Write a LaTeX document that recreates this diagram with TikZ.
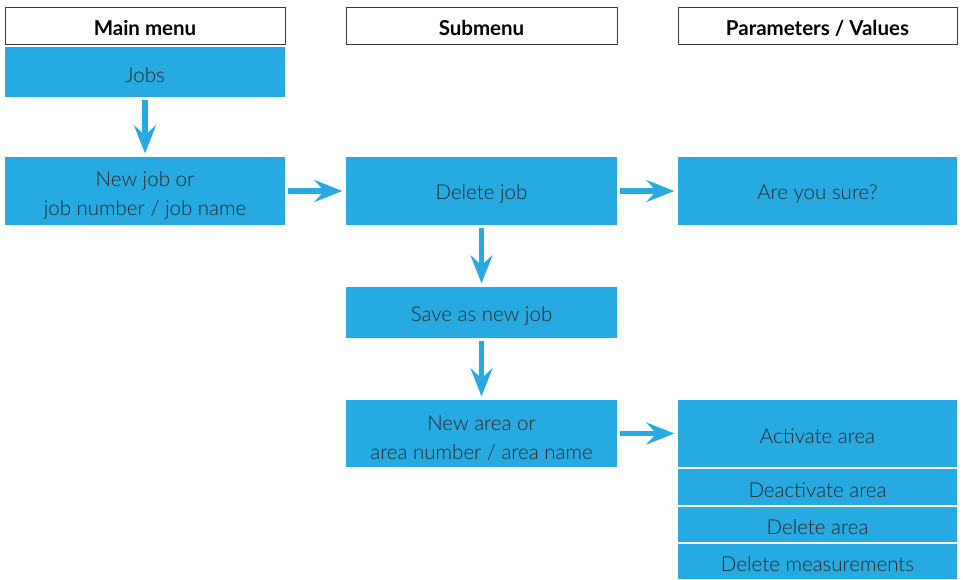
\documentclass[tikz,border=0pt]{standalone}
\usepackage{fontspec}
\setmainfont{Lato}[UprightFont=* Light, BoldFont=* Bold]
\usetikzlibrary{arrows.meta}
\definecolor{menublue}{HTML}{27A9E1}
\definecolor{menutext}{HTML}{262626}
\definecolor{headline}{HTML}{3A3A3A}
% invisible struts that lower the text a little inside its box
\newcommand{\lowerstrut}{\rule{0pt}{21pt}}
\newcommand{\lowerstrutii}{\rule{0pt}{23pt}}
\tikzset{
  x=1pt, y=-1pt,
  item/.style={fill=menublue, draw=none, inner sep=0pt, align=center,
    text=menutext, font=\fontsize{20.5}{29}\selectfont,
    execute at begin node=\lowerstrut},
  head/.style={fill=white, draw=headline, line width=1pt, inner sep=0pt,
    text=black, font=\fontsize{20.5}{23}\selectfont\bfseries,
    execute at begin node=\lowerstrut},
  flow/.style={draw=menublue, line width=5.5pt,
    -{Stealth[length=28pt, width=22pt, inset=10pt]},
    shorten <=3pt, shorten >=3.5pt},
}
\begin{document}
\begin{tikzpicture}
\useasboundingbox (0,0) rectangle (963,579);
% column headings
\node[head, minimum width=280pt, minimum height=37pt] (hmain) at (145,25.5) {Main menu};
\node[head, minimum width=271pt, minimum height=37pt] (hsub) at (481.5,25.5) {Submenu};
\node[head, minimum width=279pt, minimum height=37pt] (hpar) at (817.5,25.5) {Parameters / Values};
% main menu
\node[item, minimum width=280pt, minimum height=50pt] (jobs) at (145,72) {Jobs};
\node[item, minimum width=280pt, minimum height=68pt] (newjob) at (145,191) {\lowerstrutii New job or\\job number / job name};
% submenu
\node[item, minimum width=271pt, minimum height=68pt] (deljob) at (481.5,191) {Delete job};
\node[item, minimum width=271pt, minimum height=51pt] (saveas) at (481.5,312.5) {Save as new job};
\node[item, minimum width=271pt, minimum height=67pt] (newarea) at (481.5,433.5) {\lowerstrutii New area or\\area number / area name};
% parameters / values
\node[item, minimum width=279pt, minimum height=68pt] (sure) at (817.5,191) {Are you sure?};
\node[item, minimum width=279pt, minimum height=67pt] (activate) at (817.5,433.5) {Activate area};
\node[item, minimum width=279pt, minimum height=36pt] (deactivate) at (817.5,487) {Deactivate area};
\node[item, minimum width=279pt, minimum height=35pt] (delarea) at (817.5,524.5) {Delete area};
\node[item, minimum width=279pt, minimum height=35pt] (delmeas) at (817.5,561.5) {Delete measurements};
% connectors
\draw[flow] (jobs) -- (newjob);
\draw[flow] (newjob) -- (deljob);
\draw[flow] (deljob) -- (sure);
\draw[flow] (deljob) -- (saveas);
\draw[flow] (saveas) -- (newarea);
\draw[flow] (newarea) -- (activate);
\end{tikzpicture}
\end{document}
